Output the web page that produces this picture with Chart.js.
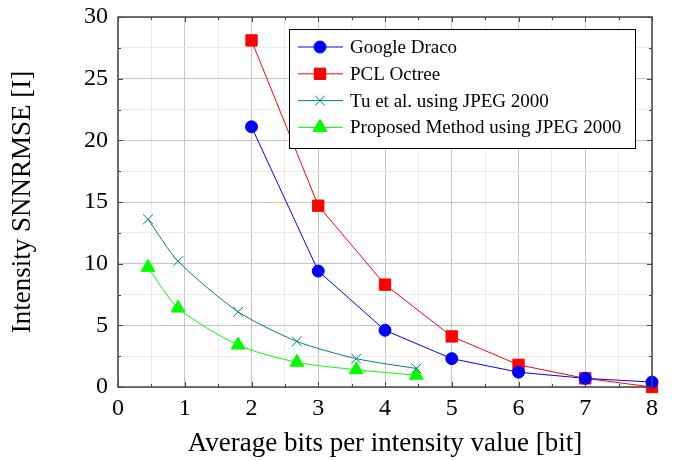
<!DOCTYPE html>
<html>
<head>
<meta charset="utf-8">
<script src="https://cdn.jsdelivr.net/npm/chart.js@4/dist/chart.umd.min.js"></script>
<style>
  html, body { margin: 0; padding: 0; background: #fff; }
  #wrap { width: 675px; height: 460px; }
</style>
</head>
<body>
<div id="wrap"><canvas id="chart"></canvas></div>
<script>
// values
const dracoX = [2, 3, 4, 5, 6, 7, 8]
const dracoY = [21.1, 9.4, 4.6, 2.3, 1.2, 0.7, 0.4]
const octreeX = [2, 3, 4, 5, 6, 7, 8]
const octreeY = [28.1, 14.7, 8.3, 4.1, 1.8, 0.7, 0.0]
const tuX = [0.45, 0.9, 1.8, 2.68, 3.57, 4.47]
const tuY = [13.6, 10.2, 6.1, 3.7, 2.3, 1.5]
const proposedX = [0.45, 0.9, 1.8, 2.68, 3.57, 4.47]
const proposedY = [9.7, 6.4, 3.4, 2.0, 1.4, 0.95]
const seriesNames = ['Google Draco', 'PCL Octree', 'Tu et al. using JPEG 2000', 'Proposed Method using JPEG 2000']
const xTitle = 'Average bits per intensity value [bit]'
const yTitle = 'Intensity SNNRMSE [I]'

const FONT = '"Liberation Serif", "DejaVu Serif", serif'

function pts(xs, ys) {
    return xs.map((x, i) => ({ x: x, y: ys[i] }))
}

// frame with small inward ticks on all four sides
const framePlugin = {
    id: 'frame',
    afterDatasetsDraw(chart) {
        const { ctx, chartArea: a, scales } = chart
        ctx.save()
        ctx.strokeStyle = '#444'
        ctx.lineWidth = 1
        scales.x.ticks.forEach(t => {
            const px = Math.round(scales.x.getPixelForValue(t.value)) + 0.5
            const len = Number.isInteger(t.value) ? 5 : 3
            ctx.beginPath()
            ctx.moveTo(px, a.bottom); ctx.lineTo(px, a.bottom - len)
            ctx.moveTo(px, a.top); ctx.lineTo(px, a.top + len)
            ctx.stroke()
        })
        scales.y.ticks.forEach(t => {
            const py = Math.round(scales.y.getPixelForValue(t.value)) + 0.5
            const len = t.value % 5 === 0 ? 5 : 3
            ctx.beginPath()
            ctx.moveTo(a.left, py); ctx.lineTo(a.left + len, py)
            ctx.moveTo(a.right, py); ctx.lineTo(a.right - len, py)
            ctx.stroke()
        })
        ctx.lineWidth = 1.5
        ctx.strokeRect(a.left, a.top, a.right - a.left, a.bottom - a.top)
        ctx.restore()
    }
}

// legend box drawn inside the plot, top right
const legendPlugin = {
    id: 'boxLegend',
    afterDraw(chart) {
        const ctx = chart.ctx
        const x0 = 289, y0 = 29, w = 346, h = 119
        ctx.save()
        ctx.fillStyle = '#fff'
        ctx.fillRect(x0, y0, w, h)
        ctx.strokeStyle = '#000'
        ctx.lineWidth = 1
        ctx.strokeRect(x0 + 0.5, y0 + 0.5, w, h)
        chart.data.datasets.forEach((ds, i) => {
            const cy = y0 + 18 + i * 26.8
            ctx.strokeStyle = ds.borderColor
            ctx.lineWidth = 1
            ctx.beginPath()
            ctx.moveTo(x0 + 9, cy); ctx.lineTo(x0 + 54, cy)
            ctx.stroke()
            Chart.helpers.drawPoint(ctx, {
                pointStyle: ds.pointStyle,
                radius: ds.pointRadius,
                rotation: 0,
                borderWidth: 1
            }, x0 + 31, cy)
            ctx.fillStyle = ds.pointBackgroundColor
            ctx.strokeStyle = ds.pointBorderColor
            ctx.fill()
            ctx.fillStyle = '#000'
            ctx.font = '19px ' + FONT
            ctx.textBaseline = 'middle'
            ctx.fillText(ds.label, x0 + 61, cy + 1)
        })
        ctx.restore()
    }
}

function series(label, data, color, style, radius, tension) {
    return {
        label: label,
        data: data,
        borderColor: color,
        backgroundColor: color,
        pointBackgroundColor: color,
        pointBorderColor: color,
        pointStyle: style,
        pointRadius: radius,
        pointBorderWidth: 1,
        borderWidth: 1,
        tension: tension,
        clip: false
    }
}

new Chart(document.getElementById('chart'), {
    type: 'line',
    data: {
        datasets: [
            series(seriesNames[0], pts(dracoX, dracoY), '#0000ff', 'circle', 6, 0),
            series(seriesNames[1], pts(octreeX, octreeY), '#ff0000', 'rect', 8, 0),
            series(seriesNames[2], pts(tuX, tuY), '#008080', 'crossRot', 7, 0.25),
            series(seriesNames[3], pts(proposedX, proposedY), '#00ff00', 'triangle', 8, 0.25)
        ]
    },
    options: {
        responsive: true,
        maintainAspectRatio: false,
        animation: false,
        layout: { padding: { top: 17, right: 23, left: 0, bottom: 0 } },
        plugins: {
            legend: { display: false },
            tooltip: { enabled: false }
        },
        scales: {
            x: {
                type: 'linear',
                min: 0,
                max: 8,
                afterFit: s => { s.height = 73; s.paddingLeft = 0; s.paddingRight = 0 },
                ticks: {
                    stepSize: 0.5,
                    autoSkip: false,
                    maxRotation: 0,
                    padding: 7,
                    color: '#000',
                    font: { family: FONT, size: 24 },
                    callback: v => Number.isInteger(v) ? String(v) : ''
                },
                grid: {
                    drawTicks: false,
                    color: c => Number.isInteger(c.tick.value) ? '#c4c4c4' : '#ebebeb'
                },
                border: { display: false },
                title: {
                    display: true,
                    text: xTitle,
                    color: '#000',
                    font: { family: FONT, size: 27 },
                    padding: { top: 0, bottom: 0 }
                }
            },
            y: {
                min: 0,
                max: 30,
                afterFit: s => { s.width = 118; s.paddingTop = 0; s.paddingBottom = 0 },
                ticks: {
                    stepSize: 2.5,
                    autoSkip: false,
                    padding: 10,
                    color: '#000',
                    font: { family: FONT, size: 24 },
                    callback: v => v % 5 === 0 ? String(v) : ''
                },
                grid: {
                    drawTicks: false,
                    color: c => c.tick.value % 5 === 0 ? '#c4c4c4' : '#ebebeb'
                },
                border: { display: false },
                title: {
                    display: true,
                    text: yTitle,
                    color: '#000',
                    font: { family: FONT, size: 27 },
                    padding: { top: 7, bottom: 0 }
                }
            }
        }
    },
    plugins: [framePlugin, legendPlugin]
})
</script>
</body>
</html>
